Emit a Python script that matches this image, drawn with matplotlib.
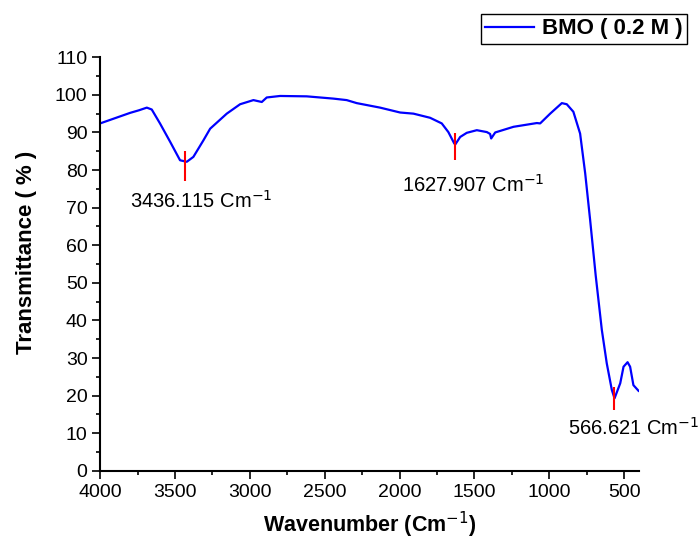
import numpy as np
import matplotlib.pyplot as plt
from matplotlib.ticker import MultipleLocator

plt.rcParams['font.family'] = ['Liberation Sans', 'DejaVu Sans']

# FTIR 光谱
wavenumber = [4000, 3900, 3800, 3740, 3688, 3655, 3600, 3532, 3466, 3421, 3377,
              3310, 3265, 3154, 3065, 2976, 2920, 2887, 2798, 2620, 2442, 2353,
              2286, 2130, 1996, 1907, 1796, 1718, 1674, 1635, 1628, 1595, 1551,
              1484, 1417, 1395, 1388, 1361, 1239, 1083, 1061, 994, 916, 883,
              839, 794, 760, 727, 690, 649, 616, 582, 564, 526, 504, 477, 460,
              438, 404]
transmittance = [92.4, 93.8, 95.2, 95.9, 96.6, 96.1, 92.4, 87.5, 82.6, 82.2,
                 83.5, 87.9, 91.0, 95.0, 97.5, 98.6, 98.1, 99.3, 99.7, 99.6,
                 99.0, 98.6, 97.8, 96.6, 95.3, 95.0, 93.9, 92.4, 90.1, 87.1,
                 86.8, 88.8, 89.9, 90.6, 90.1, 89.6, 88.4, 90.0, 91.5, 92.5,
                 92.4, 95.0, 97.8, 97.5, 95.5, 89.7, 79.1, 66.7, 52.0, 37.5,
                 28.6, 21.5, 19.3, 23.3, 27.7, 28.9, 27.7, 22.8, 21.3]

# 峰位标记
peak_pos = [3436.115, 1627.907, 566.621]
peak_lo = [77.0, 82.6, 16.2]
peak_hi = [85.0, 89.8, 22.3]
peak_labels = ['3436.115 Cm$^{-1}$', '1627.907 Cm$^{-1}$', '566.621 Cm$^{-1}$']
label_x = [3800, 1985, 875]
label_y = [71.7, 76.0, 11.5]

fig = plt.figure(figsize=(7, 5.4), dpi=100)
ax = fig.add_axes([0.143, 0.128, 0.77, 0.766])

ax.plot(wavenumber, transmittance, color='#0000ff', lw=1.6, label='BMO ( 0.2 M )')
ax.vlines(peak_pos, peak_lo, peak_hi, color='red', lw=1.5)
for x, y, t in zip(label_x, label_y, peak_labels):
    ax.text(x, y, t, fontsize=14.5, ha='left', va='center', clip_on=False)

ax.set_xlim(4000, 400)
ax.set_ylim(0, 110)
ax.xaxis.set_major_locator(MultipleLocator(500))
ax.xaxis.set_minor_locator(MultipleLocator(250))
ax.yaxis.set_major_locator(MultipleLocator(10))
ax.yaxis.set_minor_locator(MultipleLocator(5))
ax.tick_params(which='major', direction='out', length=6, width=1.2, labelsize=14)
ax.tick_params(which='minor', direction='out', length=3, width=1.2)
ax.tick_params(axis='y', pad=3)
for side in ['top', 'right']:
    ax.spines[side].set_visible(False)
for side in ['left', 'bottom']:
    ax.spines[side].set_linewidth(1.5)

ax.set_xlabel('Wavenumber (Cm$^{-1}$)', fontsize=15.5, fontweight='bold', labelpad=6)
ax.set_ylabel('Transmittance ( % )', fontsize=16, fontweight='bold')
ax.yaxis.set_label_coords(-0.117, 0.529)

leg = ax.legend(loc='upper right', bbox_to_anchor=(0.981, 0.974),
                bbox_transform=fig.transFigure, borderaxespad=0, fancybox=False,
                edgecolor='black', framealpha=1, handlelength=2.2, handletextpad=0.35,
                prop={'weight': 'bold', 'size': 16}, borderpad=0.2)
leg.get_frame().set_linewidth(1.0)

plt.savefig('out.png', dpi=100)
